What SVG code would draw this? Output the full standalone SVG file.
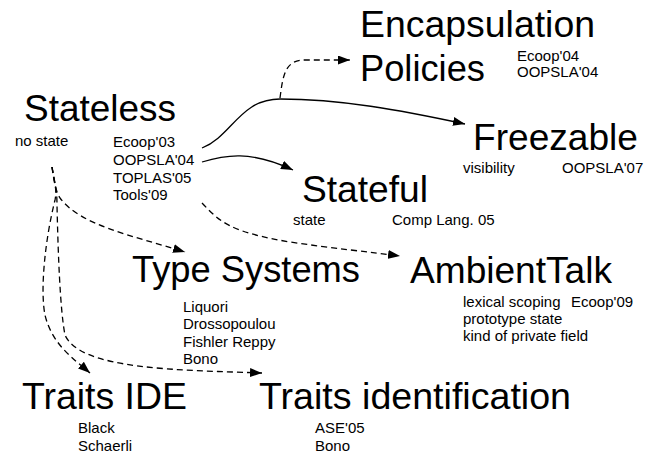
<svg xmlns="http://www.w3.org/2000/svg" width="645" height="457" viewBox="0 0 645 457">
  <style>
    text { font-family: "Liberation Sans", Arial, Helvetica, sans-serif; fill: #000; }
    .title { font-size: 36px; }
    .note { font-size: 15px; }
    .link { fill: none; stroke: #000; stroke-width: 1.3; marker-end: url(#ah); }
    .dash { stroke-dasharray: 6 4; }
  </style>
  <defs>
    <marker id="ah" viewBox="0 0 12 9" refX="12" refY="4.5" markerWidth="12" markerHeight="9" markerUnits="userSpaceOnUse" orient="auto">
      <path d="M0,0 L12,4.5 L0,9 z" fill="#000"/>
    </marker>
  </defs>
  <rect width="645" height="457" fill="#fff"/>

  <g id="connectors">
    <path class="link" d="M202,148 C232,136 240,99 280,99 C340,99 400,110 465,124"/>
    <path class="link dash" d="M280,98 C283,75 285,60 305,60 L350,60"/>
    <path class="link" d="M202,162 C225,155 250,150 293,170"/>
    <path class="link dash" d="M202,203 C220,222 230,232 290,242 C330,248 370,252 400,256"/>
    <path class="link dash" d="M52,167 C54,180 55,190 60,198 C80,225 130,235 185,252"/>
    <path class="link dash" d="M52,167 C55,185 57,190 55,200 C45,240 40,290 45,315 C52,345 75,360 90,373"/>
    <path class="link dash" d="M52,167 C55,185 57,190 57,205 C58,250 60,310 65,335 C80,370 180,370 262,373"/>
  </g>

  <g id="encapsulation-policies">
    <text class="title" x="360" y="37" textLength="235" lengthAdjust="spacingAndGlyphs">Encapsulation</text>
    <text class="title" x="360" y="81" textLength="125" lengthAdjust="spacingAndGlyphs">Policies</text>
    <text class="note" x="517" y="61">Ecoop'04</text>
    <text class="note" x="517" y="77">OOPSLA'04</text>
  </g>

  <g id="stateless">
    <text class="title" x="24" y="121" textLength="152" lengthAdjust="spacingAndGlyphs">Stateless</text>
    <text class="note" x="15" y="146">no state</text>
    <text class="note" x="113" y="146.5">Ecoop'03</text>
    <text class="note" x="113" y="164.5">OOPSLA'04</text>
    <text class="note" x="113" y="182.5">TOPLAS'05</text>
    <text class="note" x="113" y="200">Tools'09</text>
  </g>

  <g id="freezable">
    <text class="title" x="473" y="150" textLength="165" lengthAdjust="spacingAndGlyphs">Freezable</text>
    <text class="note" x="463" y="173">visibility</text>
    <text class="note" x="562" y="173">OOPSLA'07</text>
  </g>

  <g id="stateful">
    <text class="title" x="302" y="201.5" textLength="126" lengthAdjust="spacingAndGlyphs">Stateful</text>
    <text class="note" x="293" y="225">state</text>
    <text class="note" x="392" y="225">Comp Lang. 05</text>
  </g>

  <g id="ambienttalk">
    <text class="title" x="410" y="283" textLength="202" lengthAdjust="spacingAndGlyphs">AmbientTalk</text>
    <text class="note" x="463" y="307">lexical scoping</text>
    <text class="note" x="571" y="307">Ecoop'09</text>
    <text class="note" x="463" y="324">prototype state</text>
    <text class="note" x="463" y="341">kind of private field</text>
  </g>

  <g id="type-systems">
    <text class="title" x="132" y="281.5" textLength="228" lengthAdjust="spacingAndGlyphs">Type Systems</text>
    <text class="note" x="183" y="311.5">Liquori</text>
    <text class="note" x="183" y="328.5">Drossopoulou</text>
    <text class="note" x="183" y="346.5">Fishler Reppy</text>
    <text class="note" x="183" y="364">Bono</text>
  </g>

  <g id="traits-ide">
    <text class="title" x="22" y="409" textLength="165" lengthAdjust="spacingAndGlyphs">Traits IDE</text>
    <text class="note" x="78" y="433">Black</text>
    <text class="note" x="78" y="451">Schaerli</text>
  </g>

  <g id="traits-identification">
    <text class="title" x="259" y="409" textLength="312" lengthAdjust="spacingAndGlyphs">Traits identification</text>
    <text class="note" x="315" y="433">ASE'05</text>
    <text class="note" x="315" y="451">Bono</text>
  </g>
</svg>
